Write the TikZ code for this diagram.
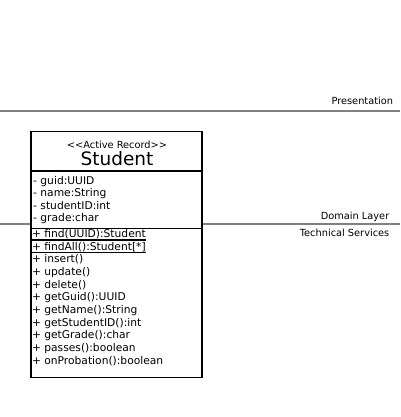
\documentclass[tikz,border=0pt]{standalone}
\usepackage{fontspec}
\setmainfont{DejaVu Sans}
\usetikzlibrary{positioning}

\begin{document}
\begin{tikzpicture}[x=1pt, y=-1pt,
    layerline/.style={draw={rgb,255:red,128;green,128;blue,128}, line width=1.5pt},
    layerlabel/.style={anchor=base east, inner sep=0pt, font=\fontsize{9.8}{12}\selectfont},
    member/.style={anchor=base west, inner sep=0pt, text depth=2.4pt, font=\fontsize{10.7}{12}\selectfont}]
    \useasboundingbox (0,0) rectangle (400,417);

    % Layer borders
    \coordinate (l1w) at (0,111);
    \coordinate (l1e) at (400,111);
    \coordinate (l2w) at (0,224);
    \coordinate (l2e) at (400,224);
    \draw[layerline] (l1w) -- (l1e);
    \draw[layerline] (l2w) -- (l2e);
    \node[layerlabel] (pres) at (393.3,105) {Presentation};
    \node[layerlabel] (dom) at (389.5,219.3) {Domain Layer};
    \node[layerlabel] (tech) at (389.5,236) {Technical Services};

    % Student class box
    \node[draw, fill=white, line width=1.5pt, minimum width=171pt, minimum height=246pt, inner sep=0pt] (cls) at (116.5,254.5) {};
    \coordinate (div1) at (31,171);
    \coordinate (div2) at (31,228.5);
    \draw[line width=1.2pt] (div1) -- (div1 -| cls.east);
    \draw[line width=1.2pt] (div2) -- (div2 -| cls.east);
    \node[anchor=base, inner sep=0pt, font=\fontsize{9.8}{11}\selectfont] (stereo) at (117,148) {<{}<Active Record>{}>};
    \node[anchor=base, inner sep=0pt, font=\fontsize{18.5}{20}\selectfont] (name) at (117,165.3) {Student};

    % Attributes
    \node[member] (a1) at (33,184) {- guid:UUID};
    \node[member] (a2) at (33,196.5) {- name:String};
    \node[member] (a3) at (33,209) {- studentID:int};
    \node[member] (a4) at (33,221.5) {- grade:char};

    % Operations
    \node[member] (m1) at (31.8,237.3) {+ find(UUID):Student};
    \node[member] (m2) at (31.8,250) {+ findAll():Student[*]};
    \node[member] (m3) at (31.8,262.7) {+ insert()};
    \node[member] (m4) at (31.8,275.4) {+ update()};
    \node[member] (m5) at (31.8,288.1) {+ delete()};
    \node[member] (m6) at (31.8,300.8) {+ getGuid():UUID};
    \node[member] (m7) at (31.8,313.5) {+ getName():String};
    \node[member] (m8) at (31.8,326.2) {+ getStudentID():int};
    \node[member] (m9) at (31.8,338.9) {+ getGrade():char};
    \node[member] (m10) at (31.8,351.6) {+ passes():boolean};
    \node[member] (m11) at (31.8,364.3) {+ onProbation():boolean};

    % Static operations underlined
    \draw[line width=1.2pt] (m1.south west -| cls.west) -- (m1.south east);
    \draw[line width=1.2pt] (m2.south west -| cls.west) -- (m2.south east);
\end{tikzpicture}
\end{document}
